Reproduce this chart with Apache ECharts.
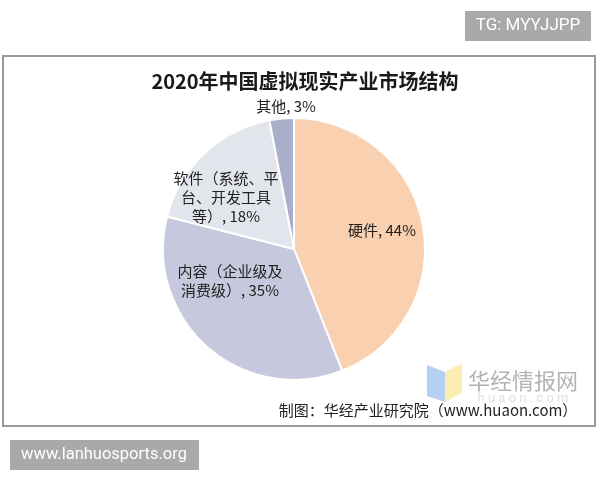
<!DOCTYPE html>
<html>
<head>
<meta charset="utf-8">
<script src="https://cdn.jsdelivr.net/npm/echarts@6/dist/echarts.min.js"></script>
<style>
  html, body { margin: 0; padding: 0; background: #fff; }
  #main { width: 600px; height: 480px; }
</style>
</head>
<body>
<div id="main"></div>
<script>
    // 数据
    var categories = ['硬件', '内容（企业级及\n消费级）', '软件（系统、平\n台、开发工具\n等）', '其他'];
    var values = [44, 35, 18, 3];
    var colors = ['#F9D0B0', '#C6C9DE', '#E2E5EC', '#A9AEC9'];
    // 标签位置（手动摆放，和原图一致）
    var labelPos = [[382, 230], [230, 281], [226, 197], [286, 106]];

    var myChart = echarts.init(document.getElementById('main'));
    var font = '"Noto Sans CJK SC", "Noto Sans", sans-serif';

    var pieData = [];
    for (var i = 0; i < categories.length; i++) {
        pieData.push({ name: categories[i], value: values[i], itemStyle: { color: colors[i] } });
    }

    var option = {
        backgroundColor: '#fff',
        animation: false,
        title: {
            text: '2020年中国虚拟现实产业市场结构',
            left: 300,
            top: 66,
            textAlign: 'center',
            textStyle: { fontFamily: font, fontSize: 20, fontWeight: 'bold', color: '#1a1a1a' }
        },
        graphic: [
            // 外框
            { type: 'rect', shape: { x: 3, y: 56, width: 592, height: 370 }, style: { fill: 'none', stroke: '#9a9a9a', lineWidth: 2 }, z: -10 },
            // 右上角水印
            { type: 'rect', shape: { x: 465, y: 11, width: 126, height: 30 }, style: { fill: '#a9a9a9' } },
            { type: 'text', x: 528, y: 26, style: { text: 'TG: MYYJJPP', fill: '#fff', font: '17px Roboto, sans-serif', align: 'center', verticalAlign: 'middle' } },
            // 左下角水印
            { type: 'rect', shape: { x: 10, y: 440, width: 189, height: 30 }, style: { fill: '#a9a9a9' } },
            { type: 'text', x: 104, y: 455, style: { text: 'www.lanhuosports.org', fill: '#fff', font: '16.5px Roboto, sans-serif', align: 'center', verticalAlign: 'middle' } },
            // 华经情报网 logo
            { type: 'polygon', shape: { points: [[427, 365], [445, 372], [445, 402], [427, 396]] }, style: { fill: '#A9C8F2', opacity: 0.85 }, z: 5 },
            { type: 'polygon', shape: { points: [[445, 372], [462, 363], [462, 393], [445, 402]] }, style: { fill: '#FBEBA6', opacity: 0.85 }, z: 5 },
            { type: 'text', x: 523, y: 381, style: { text: '华经情报网', fill: '#b3b3b3', font: '22px "Noto Sans CJK SC", sans-serif', align: 'center', verticalAlign: 'middle' }, z: 5 },
            { type: 'text', x: 523, y: 399, style: { text: 'h u a o n . c o m', fill: '#e0e0e0', font: '13px Roboto, sans-serif', align: 'center', verticalAlign: 'middle' }, z: 5 },
            // 数据来源
            { type: 'text', x: 428, y: 410, style: { text: '制图：华经产业研究院（www.huaon.com）', fill: '#222', font: '15px "Noto Sans CJK SC", sans-serif', align: 'center', verticalAlign: 'middle' }, z: 6 }
        ],
        series: [
            {
                name: '市场结构',
                type: 'pie',
                center: [294, 249],
                radius: 131,
                startAngle: 90,
                clockwise: true,
                itemStyle: { borderColor: '#fff', borderWidth: 2 },
                label: {
                    show: true,
                    position: 'inside',
                    formatter: function (p) { return p.name + ', ' + p.value + '%'; },
                    fontFamily: font,
                    fontSize: 15,
                    lineHeight: 19,
                    color: '#222',
                    align: 'center'
                },
                labelLine: { show: false },
                labelLayout: function (params) {
                    var pos = labelPos[params.dataIndex];
                    return { x: pos[0], y: pos[1], align: 'center', verticalAlign: 'middle' };
                },
                emphasis: { disabled: true },
                data: pieData
            }
        ]
    };
    myChart.setOption(option);
</script>
</body>
</html>
